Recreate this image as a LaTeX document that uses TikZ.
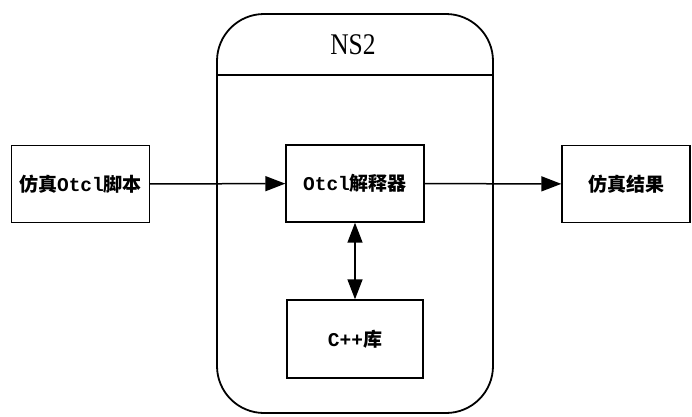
\documentclass[tikz,border=0pt]{standalone}
\usepackage{fontspec}
\setmainfont{Liberation Serif}
\newfontfamily\cjk{Noto Sans CJK SC}
\newfontfamily\lmono{Liberation Mono}
\usetikzlibrary{arrows.meta}
\tikzset{
  box/.style={draw, line width=1.4pt, minimum width=138pt, minimum height=77pt, inner sep=0pt,
    font=\fontsize{19}{22}\selectfont\bfseries},
  tip/.tip={Triangle[length=20pt,width=15pt]},
  link/.style={line width=1.5pt, -tip},
  dlink/.style={line width=1.5pt, tip-tip},
}
\newcommand{\lat}[1]{{\lmono\fontsize{19.5}{22}\selectfont\bfseries #1}}
\begin{document}
\begin{tikzpicture}[x=1pt,y=-1pt]
  \useasboundingbox (0,0) rectangle (692,416);
  % NS2 container with rounded corners and a title band
  \node[draw, line width=1.8pt, rounded corners=47pt, minimum width=276pt, minimum height=399pt,
        inner sep=0pt] (ns) at (355,213.5) {};
  \coordinate (hl) at (217,75);
  \coordinate (hr) at (493,75);
  \draw[line width=1.4pt] (hl) -- (hr);
  \node[font=\fontsize{30}{32}\selectfont, xscale=0.85] (title) at (353,45) {NS2};
  % inner and outer boxes
  \node[box] (script) at (80.5,184) {\cjk 仿真\lat{Otcl}\cjk 脚本};
  \node[box] (interp) at (355,183.5) {\lat{Otcl}\cjk 解释器};
  \node[box, minimum width=128pt] (result) at (626,184) {\cjk 仿真结果};
  \node[box, minimum width=136pt, minimum height=78pt] (lib) at (355,339) {\lat{C++}\cjk 库};
  % connectors
  \draw[link] (script) -- (interp);
  \draw[link] (interp) -- (result);
  \draw[dlink] (interp) -- (lib);
\end{tikzpicture}
\end{document}
